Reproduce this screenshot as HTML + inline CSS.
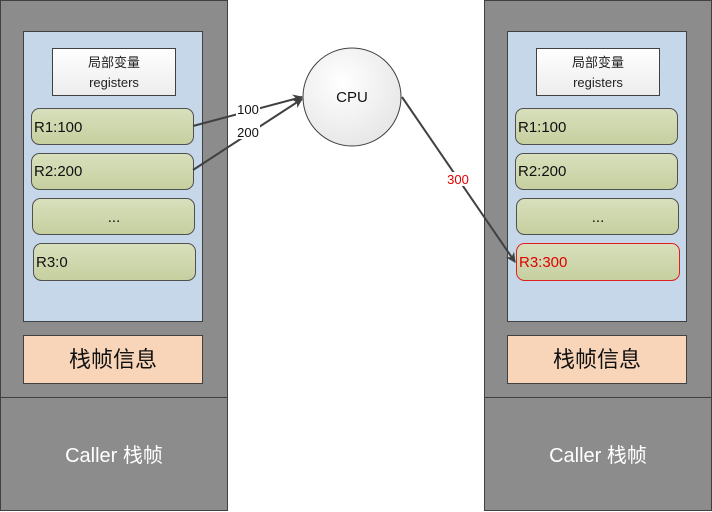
<!DOCTYPE html>
<html><head><meta charset="utf-8"><style>body{margin:0;background:#fff}svg{display:block}</style></head><body>
<svg width="712" height="512" xmlns="http://www.w3.org/2000/svg" font-family="Liberation Sans, Noto Sans CJK SC, sans-serif">
<defs>
<linearGradient id="g" x1="0" y1="0" x2="0" y2="1"><stop offset="0" stop-color="#d8e0bd"/><stop offset="1" stop-color="#c6cf9f"/></linearGradient>
<linearGradient id="w" x1="0" y1="0" x2="0" y2="1"><stop offset="0" stop-color="#ffffff"/><stop offset="1" stop-color="#ececec"/></linearGradient>
<radialGradient id="c" cx="0.4" cy="0.35" r="0.7"><stop offset="0" stop-color="#ffffff"/><stop offset="1" stop-color="#e6e6e6"/></radialGradient>
<marker id="a" markerWidth="10" markerHeight="10" refX="9" refY="5" orient="auto" markerUnits="userSpaceOnUse"><path d="M0,0 L10,5 L0,10 L3,5 Z" fill="#404040"/></marker>
<g id="panel">
<rect x="0.5" y="0.5" width="227" height="510" fill="#8c8c8c" stroke="#404040"/>
<line x1="0" y1="397.5" x2="228" y2="397.5" stroke="#404040"/>
<rect x="23.5" y="31.5" width="179" height="290" fill="#c5d7e8" stroke="#404040"/>
<rect x="52.5" y="48.5" width="123" height="47" fill="url(#w)" stroke="#404040"/>
<text x="114" y="67" font-size="13" text-anchor="middle" fill="#222">局部变量</text>
<text x="114" y="87" font-size="13" text-anchor="middle" fill="#222">registers</text>
<rect x="31.5" y="108.5" width="162" height="36" rx="8" fill="url(#g)" stroke="#505050"/>
<text x="34" y="132" font-size="15" fill="#111">R1:100</text>
<rect x="31.5" y="153.5" width="162" height="36" rx="8" fill="url(#g)" stroke="#505050"/>
<text x="34" y="176" font-size="15" fill="#111">R2:200</text>
<rect x="32.5" y="198.5" width="162" height="36" rx="8" fill="url(#g)" stroke="#505050"/>
<text x="114" y="222" font-size="15" text-anchor="middle" fill="#111">...</text>
<rect x="23.5" y="335.5" width="179" height="48" fill="#f8d5b8" stroke="#404040"/>
<text x="113" y="367" font-size="22" text-anchor="middle" fill="#111">栈帧信息</text>
<text x="114" y="462" font-size="20" text-anchor="middle" fill="#fff">Caller 栈帧</text>
</g>
</defs>
<use href="#panel"/>
<use href="#panel" x="484"/>
<rect x="33.5" y="243.5" width="162" height="37" rx="8" fill="url(#g)" stroke="#505050"/>
<text x="36" y="267" font-size="15" fill="#111">R3:0</text>
<rect x="516.5" y="243.5" width="163" height="37" rx="8" fill="url(#g)" stroke="#e02020"/>
<text x="519" y="267" font-size="15" fill="#e00000">R3:300</text>
<circle cx="352" cy="97" r="49" fill="url(#c)" stroke="#404040"/>
<text x="352" y="102" font-size="15" text-anchor="middle" fill="#111">CPU</text>
<line x1="193" y1="126" x2="302" y2="97" stroke="#404040" stroke-width="2" marker-end="url(#a)"/>
<line x1="193" y1="170" x2="302" y2="99" stroke="#404040" stroke-width="2" marker-end="url(#a)"/>
<line x1="402" y1="97" x2="515" y2="262" stroke="#404040" stroke-width="2" marker-end="url(#a)"/>
<rect x="236" y="102" width="24" height="14" fill="#fff"/>
<text x="248" y="114" font-size="13" text-anchor="middle" fill="#111">100</text>
<rect x="236" y="125" width="24" height="14" fill="#fff"/>
<text x="248" y="137" font-size="13" text-anchor="middle" fill="#111">200</text>
<rect x="446" y="172" width="24" height="14" fill="#fff"/>
<text x="458" y="184" font-size="13" text-anchor="middle" fill="#e00000">300</text>
</svg>
</body></html>
